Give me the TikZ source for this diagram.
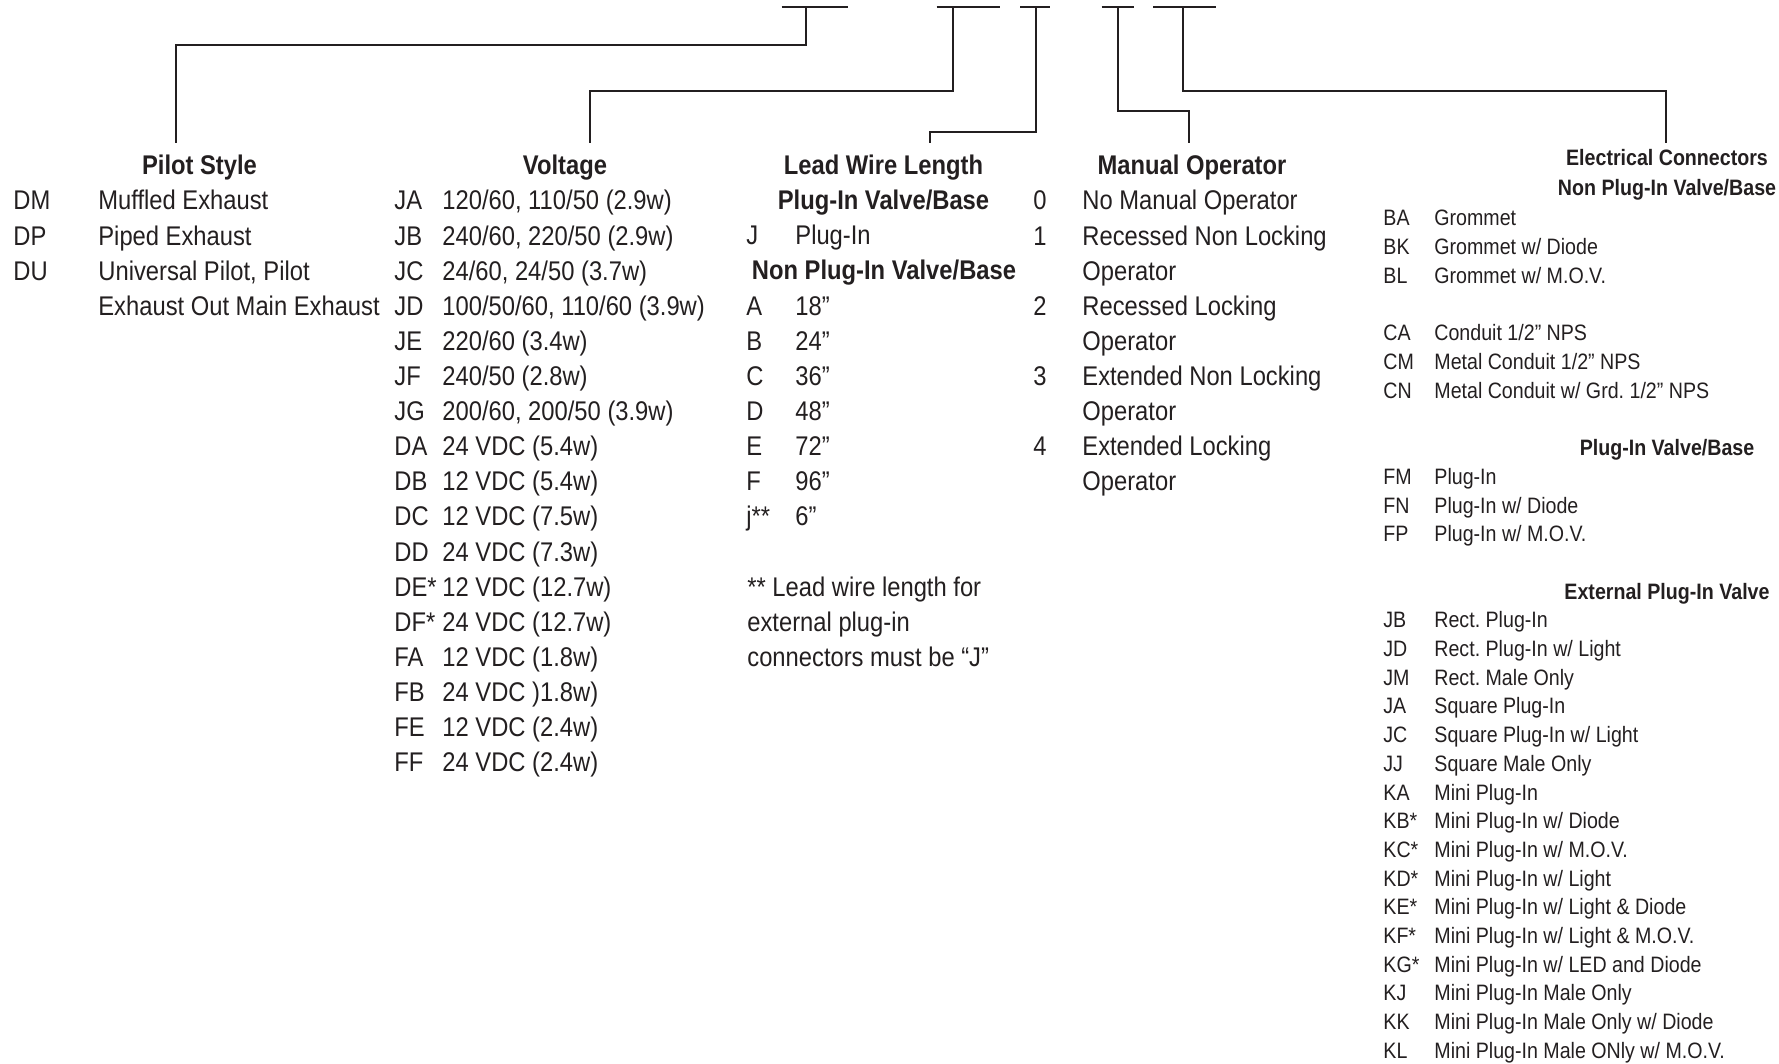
\documentclass[tikz,border=0pt]{standalone}
\usepackage{fontspec}
\setmainfont{Liberation Sans}[FakeStretch=0.88]
\usepackage{xcolor}
\definecolor{ink}{HTML}{231F20}
\frenchspacing

\begin{document}
\begin{tikzpicture}[x=0.5pt,y=-0.5pt,
   bar/.style={draw=ink,line width=1.35pt},
   leader/.style={draw=ink,line width=1pt},
   txt/.style={inner sep=0pt,anchor=base west,text=ink,font=\fontsize{13.5}{16}\selectfont},
   head/.style={inner sep=0pt,anchor=base,text=ink,font=\fontsize{13.5}{16}\selectfont\bfseries},
   sml/.style={inner sep=0pt,anchor=base west,text=ink,font=\fontsize{11.15}{13}\selectfont},
   shead/.style={inner sep=0pt,anchor=base,text=ink,font=\fontsize{11.15}{13}\selectfont\bfseries}]
\useasboundingbox (0,0) rectangle (1779,1064);
% code blanks along the top, one stem point each
\foreach \a/\b/\s [count=\i] in {781.7/848.3/805.7, 936.7/1000/953.3, 1020/1050/1036, 1101.7/1134/1117.7, 1153/1216/1183.3}{
   \draw[bar] (\a,7) -- (\b,7);
   \coordinate (s\i) at (\s,7);}
% column headings
\node[head] (hpilot) at (199.5,175) {Pilot Style};
\node[head] (hvolt) at (565,175) {Voltage};
\node[head] (hlead) at (883.5,175) {Lead Wire Length};
\node[head] (hman) at (1192,175) {Manual Operator};
\node[shead] (helec) at (1667,166) {Electrical Connectors};
% leader ends above the headings
\coordinate (tpilot) at (176,143);
\coordinate (tvolt) at (590,143);
\coordinate (tlead) at (930.4,143);
\coordinate (tman) at (1189,143);
\coordinate (telec) at (1665.6,143);
\foreach \s/\d/\t in {s1/38/tpilot, s2/84/tvolt, s3/125/tlead, s4/104/tman, s5/84/telec}
   {\draw[leader] (\s) -- ++(0,\d) -| (\t);}
% pilot style
\foreach \c/\d [count=\k from 0] in {DM/{Muffled Exhaust}, DP/{Piped Exhaust}, DU/{Universal Pilot, Pilot}, {}/{Exhaust Out Main Exhaust}}{
   \node[txt] (pc\k) at (13,210+35.1*\k) {\c};
   \node[txt] (pd\k) at (98,210+35.1*\k) {\d};}
% voltage
\foreach \c/\d [count=\k from 0] in {JA/{120/60, 110/50 (2.9w)}, JB/{240/60, 220/50 (2.9w)}, JC/{24/60, 24/50 (3.7w)},
   JD/{100/50/60, 110/60 (3.9w)}, JE/{220/60 (3.4w)}, JF/{240/50 (2.8w)}, JG/{200/60, 200/50 (3.9w)},
   DA/{24 VDC (5.4w)}, DB/{12 VDC (5.4w)}, DC/{12 VDC (7.5w)}, DD/{24 VDC (7.3w)}, DE*/{12 VDC (12.7w)},
   DF*/{24 VDC (12.7w)}, FA/{12 VDC (1.8w)}, FB/{24 VDC )1.8w)}, FE/{12 VDC (2.4w)}, FF/{24 VDC (2.4w)}}{
   \node[txt] (vc\k) at (394,210+35.1*\k) {\c};
   \node[txt] (vd\k) at (442,210+35.1*\k) {\d};}
% lead wire length
\node[head] (hplug) at (883.5,210) {Plug-In Valve/Base};
\node[txt] (lcj) at (746,245) {J};
\node[txt] (ldj) at (795,245) {Plug-In};
\node[head] (hnonplug) at (884,280) {Non Plug-In Valve/Base};
\foreach \c/\d [count=\k from 3] in {A/18”, B/24”, C/36”, D/48”, E/72”, F/96”, j**/6”}{
   \node[txt] (lc\k) at (746,210+35.1*\k) {\c};
   \node[txt] (ld\k) at (795,210+35.1*\k) {\d};}
\foreach \t [count=\k from 11] in {{** Lead wire length for}, {external plug-in}, {connectors must be “J”}}
   {\node[txt] (note\k) at (747,210+35.1*\k) {\t};}
% manual operator
\foreach \c/\d [count=\k from 0] in {0/{No Manual Operator}, 1/{Recessed Non Locking}, {}/Operator, 2/{Recessed Locking},
   {}/Operator, 3/{Extended Non Locking}, {}/Operator, 4/{Extended Locking}, {}/Operator}{
   \node[txt] (mc\k) at (1033,210+35.1*\k) {\c};
   \node[txt] (md\k) at (1082,210+35.1*\k) {\d};}
% electrical connectors, three groups
\node[shead] (hecnon) at (1667,196) {Non Plug-In Valve/Base};
\node[shead] (hecplug) at (1667,455.6) {Plug-In Valve/Base};
\node[shead] (hecext) at (1667,599) {External Plug-In Valve};
\foreach \r/\c/\d in {0/BA/Grommet, 1/BK/{Grommet w/ Diode}, 2/BL/{Grommet w/ M.O.V.},
   4/CA/{Conduit 1/2” NPS}, 5/CM/{Metal Conduit 1/2” NPS}, 6/CN/{Metal Conduit w/ Grd. 1/2” NPS},
   9/FM/Plug-In, 10/FN/{Plug-In w/ Diode}, 11/FP/{Plug-In w/ M.O.V.},
   14/JB/{Rect. Plug-In}, 15/JD/{Rect. Plug-In w/ Light}, 16/JM/{Rect. Male Only}, 17/JA/{Square Plug-In},
   18/JC/{Square Plug-In w/ Light}, 19/JJ/{Square Male Only}, 20/KA/{Mini Plug-In}, 21/KB*/{Mini Plug-In w/ Diode},
   22/KC*/{Mini Plug-In w/ M.O.V.}, 23/KD*/{Mini Plug-In w/ Light}, 24/KE*/{Mini Plug-In w/ Light \& Diode},
   25/KF*/{Mini Plug-In w/ Light \& M.O.V.}, 26/KG*/{Mini Plug-In w/ LED and Diode}, 27/KJ/{Mini Plug-In Male Only},
   28/KK/{Mini Plug-In Male Only w/ Diode}, 29/KL/{Mini Plug-In Male ONly w/ M.O.V.}}{
   \node[sml] (ec\r) at (1383,226+28.7*\r) {\c};
   \node[sml] (ed\r) at (1434,226+28.7*\r) {\d};}
\end{tikzpicture}
\end{document}
